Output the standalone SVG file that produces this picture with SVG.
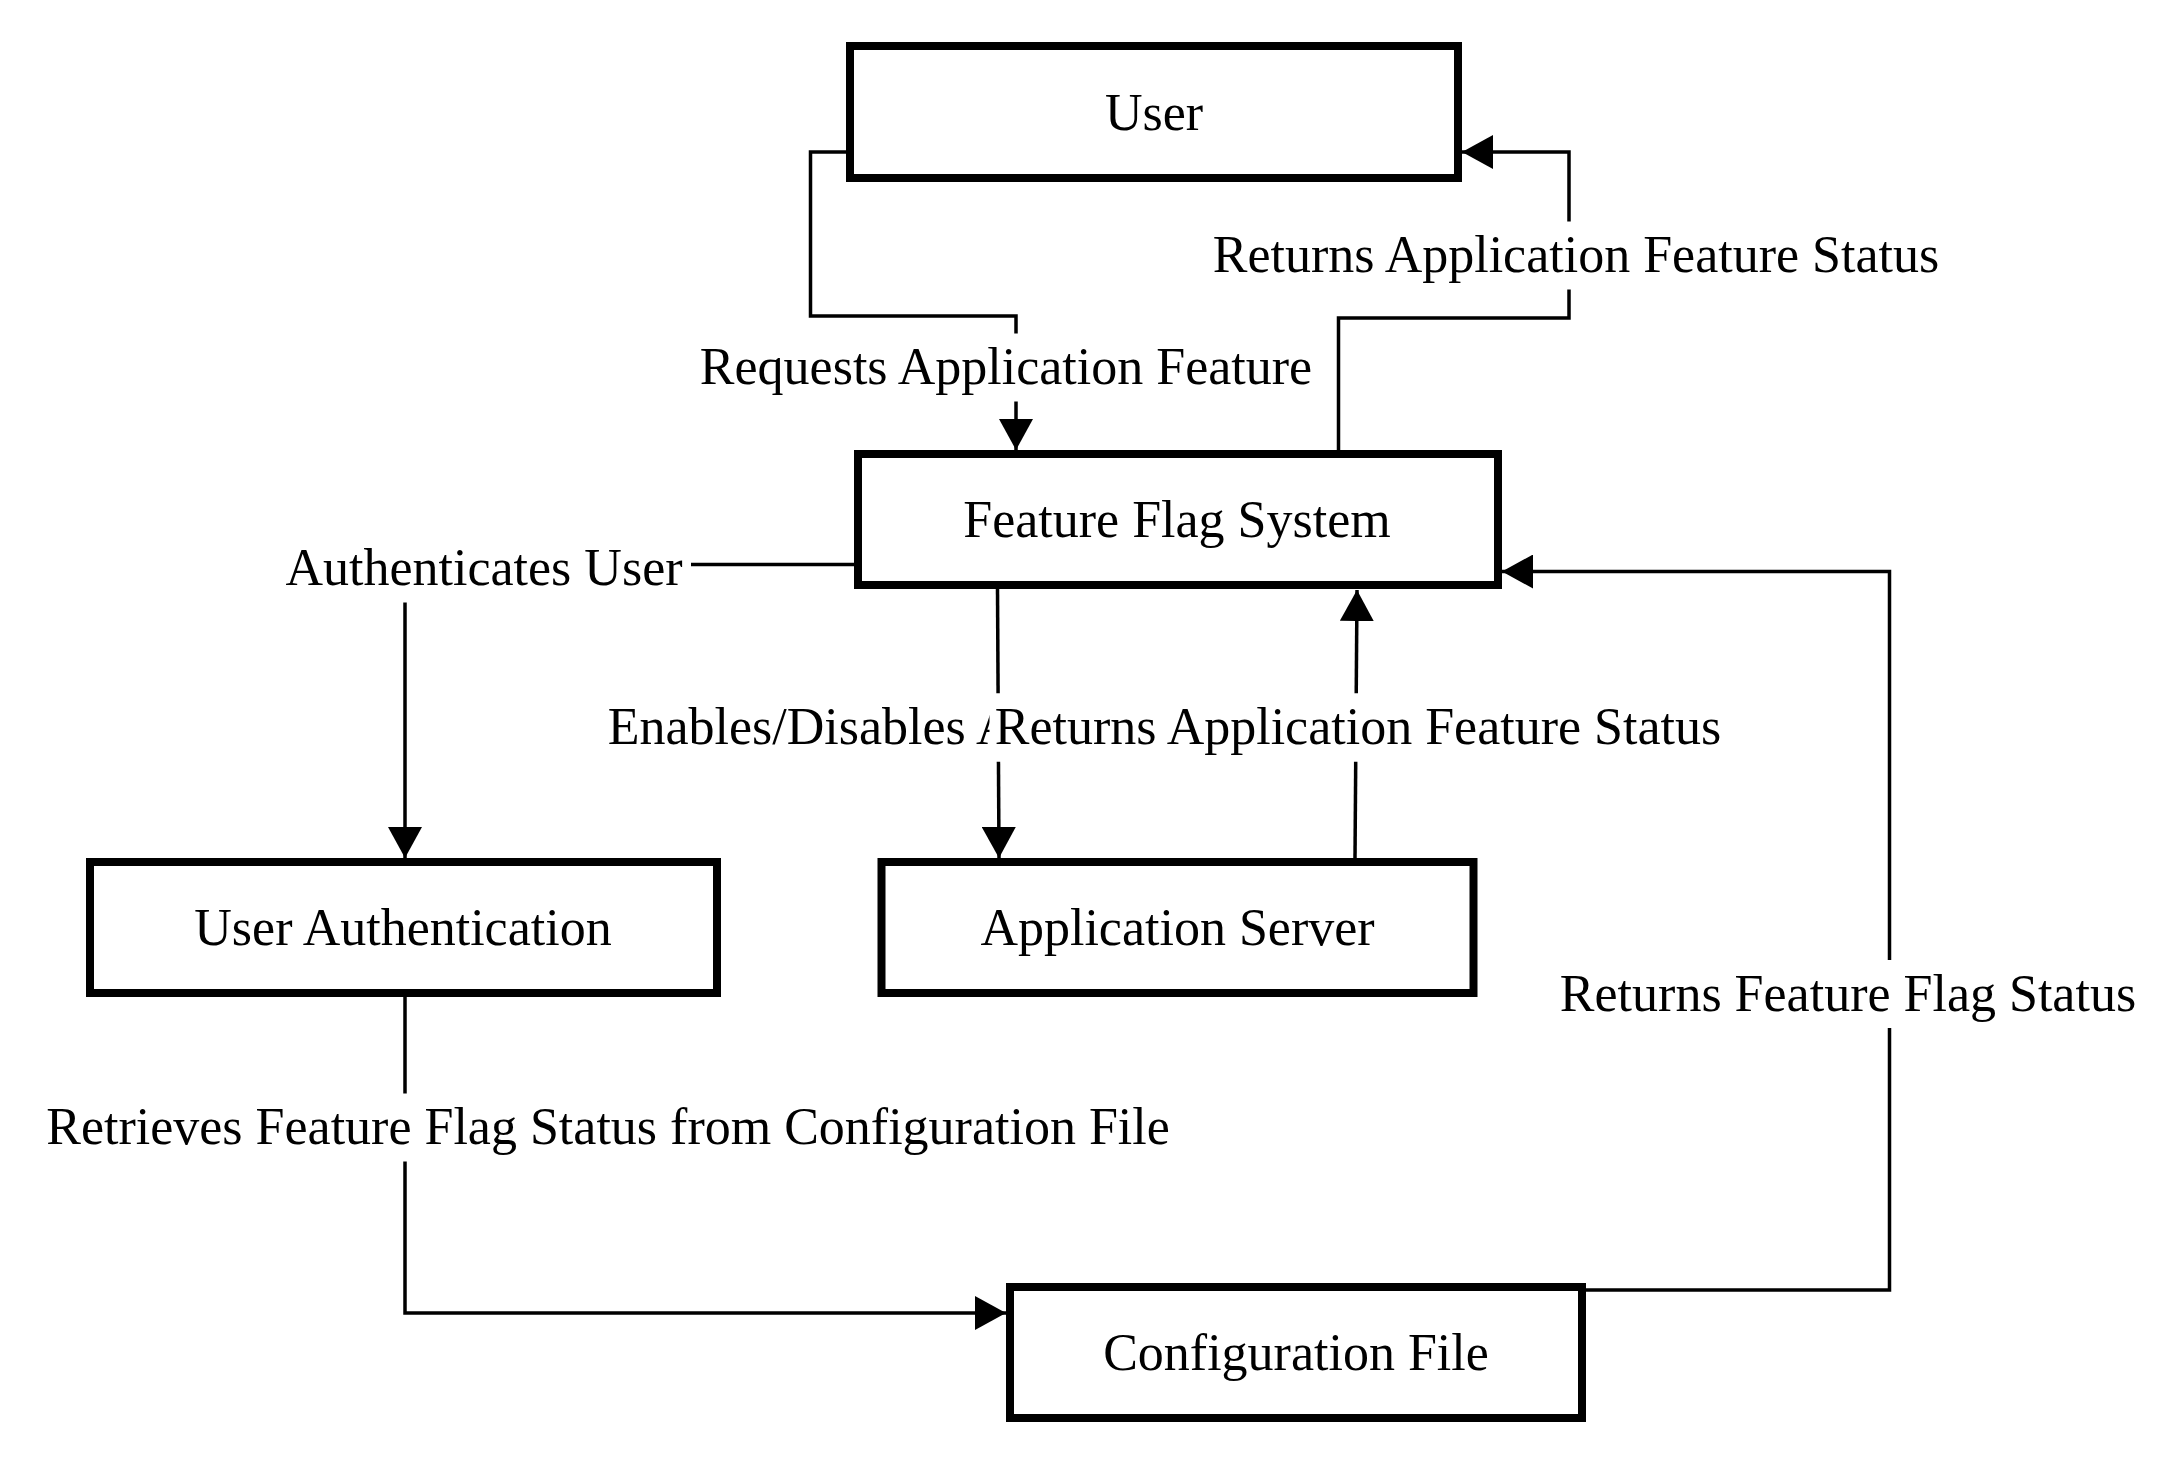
<svg xmlns="http://www.w3.org/2000/svg" width="2180" height="1460" viewBox="0 0 2180 1460">
<style>
.box{fill:#fff;stroke:#000;stroke-width:8}
.t{font-family:"Liberation Serif","Times New Roman",serif;font-size:52px;fill:#000;text-anchor:middle}
.c{fill:none;stroke:#000;stroke-width:3.5}
.bg{fill:#fff}
</style>
<defs>
<marker id="ah" markerUnits="userSpaceOnUse" markerWidth="32" markerHeight="34" refX="31" refY="17" orient="auto">
<path d="M0,0 L31,17 L0,34 Z" fill="#000"/>
</marker>
</defs>
<rect width="2180" height="1460" fill="#fff"/>
<g id="connectors">
<path class="c" d="M846,152 H810.5 V316 H1016 V450" marker-end="url(#ah)"/>
<path class="c" d="M1338.5,450 V318 H1569 V152 H1462" marker-end="url(#ah)"/>
<path class="c" d="M854,564.5 H405 V858" marker-end="url(#ah)"/>
<path class="c" d="M997.5,589 L999,858" marker-end="url(#ah)"/>
<path class="c" d="M1355,858 L1357,590" marker-end="url(#ah)"/>
<path class="c" d="M405,997 V1313 H1006" marker-end="url(#ah)"/>
<path class="c" d="M1586,1290 H1889.5 V571.5 H1502" marker-end="url(#ah)"/>
</g>
<g id="labels">
<rect class="bg" x="694.5" y="333.5" width="623" height="68"/>
<text class="t" x="1006" y="384">Requests Application Feature</text>
<rect class="bg" x="1207.5" y="221.5" width="737" height="68"/>
<text class="t" x="1576" y="272">Returns Application Feature Status</text>
<rect class="bg" x="279" y="534.5" width="412" height="68"/>
<text class="t" x="484" y="585">Authenticates User</text>
<rect class="bg" x="602" y="693.5" width="794" height="68"/>
<text class="t" x="999" y="744">Enables/Disables Application Feature</text>
<rect class="bg" x="989.5" y="693.5" width="737" height="68"/>
<text class="t" x="1358" y="744">Returns Application Feature Status</text>
<rect class="bg" x="42" y="1093.5" width="1132" height="68"/>
<text class="t" x="608" y="1144">Retrieves Feature Flag Status from Configuration File</text>
<rect class="bg" x="1556" y="960" width="584" height="68"/>
<text class="t" x="1848" y="1011">Returns Feature Flag Status</text>
</g>
<g id="user">
<rect class="box" x="850" y="46" width="608" height="132"/>
<text class="t" x="1154" y="130">User</text>
</g>
<g id="feature-flag-system">
<rect class="box" x="858" y="454" width="640" height="131"/>
<text class="t" x="1177" y="537">Feature Flag System</text>
</g>
<g id="user-authentication">
<rect class="box" x="90" y="862" width="627" height="131"/>
<text class="t" x="403" y="945">User Authentication</text>
</g>
<g id="application-server">
<rect class="box" x="881.5" y="862" width="592" height="131"/>
<text class="t" x="1177.5" y="945">Application Server</text>
</g>
<g id="configuration-file">
<rect class="box" x="1010" y="1287" width="572" height="131"/>
<text class="t" x="1296" y="1370">Configuration File</text>
</g>
</svg>
